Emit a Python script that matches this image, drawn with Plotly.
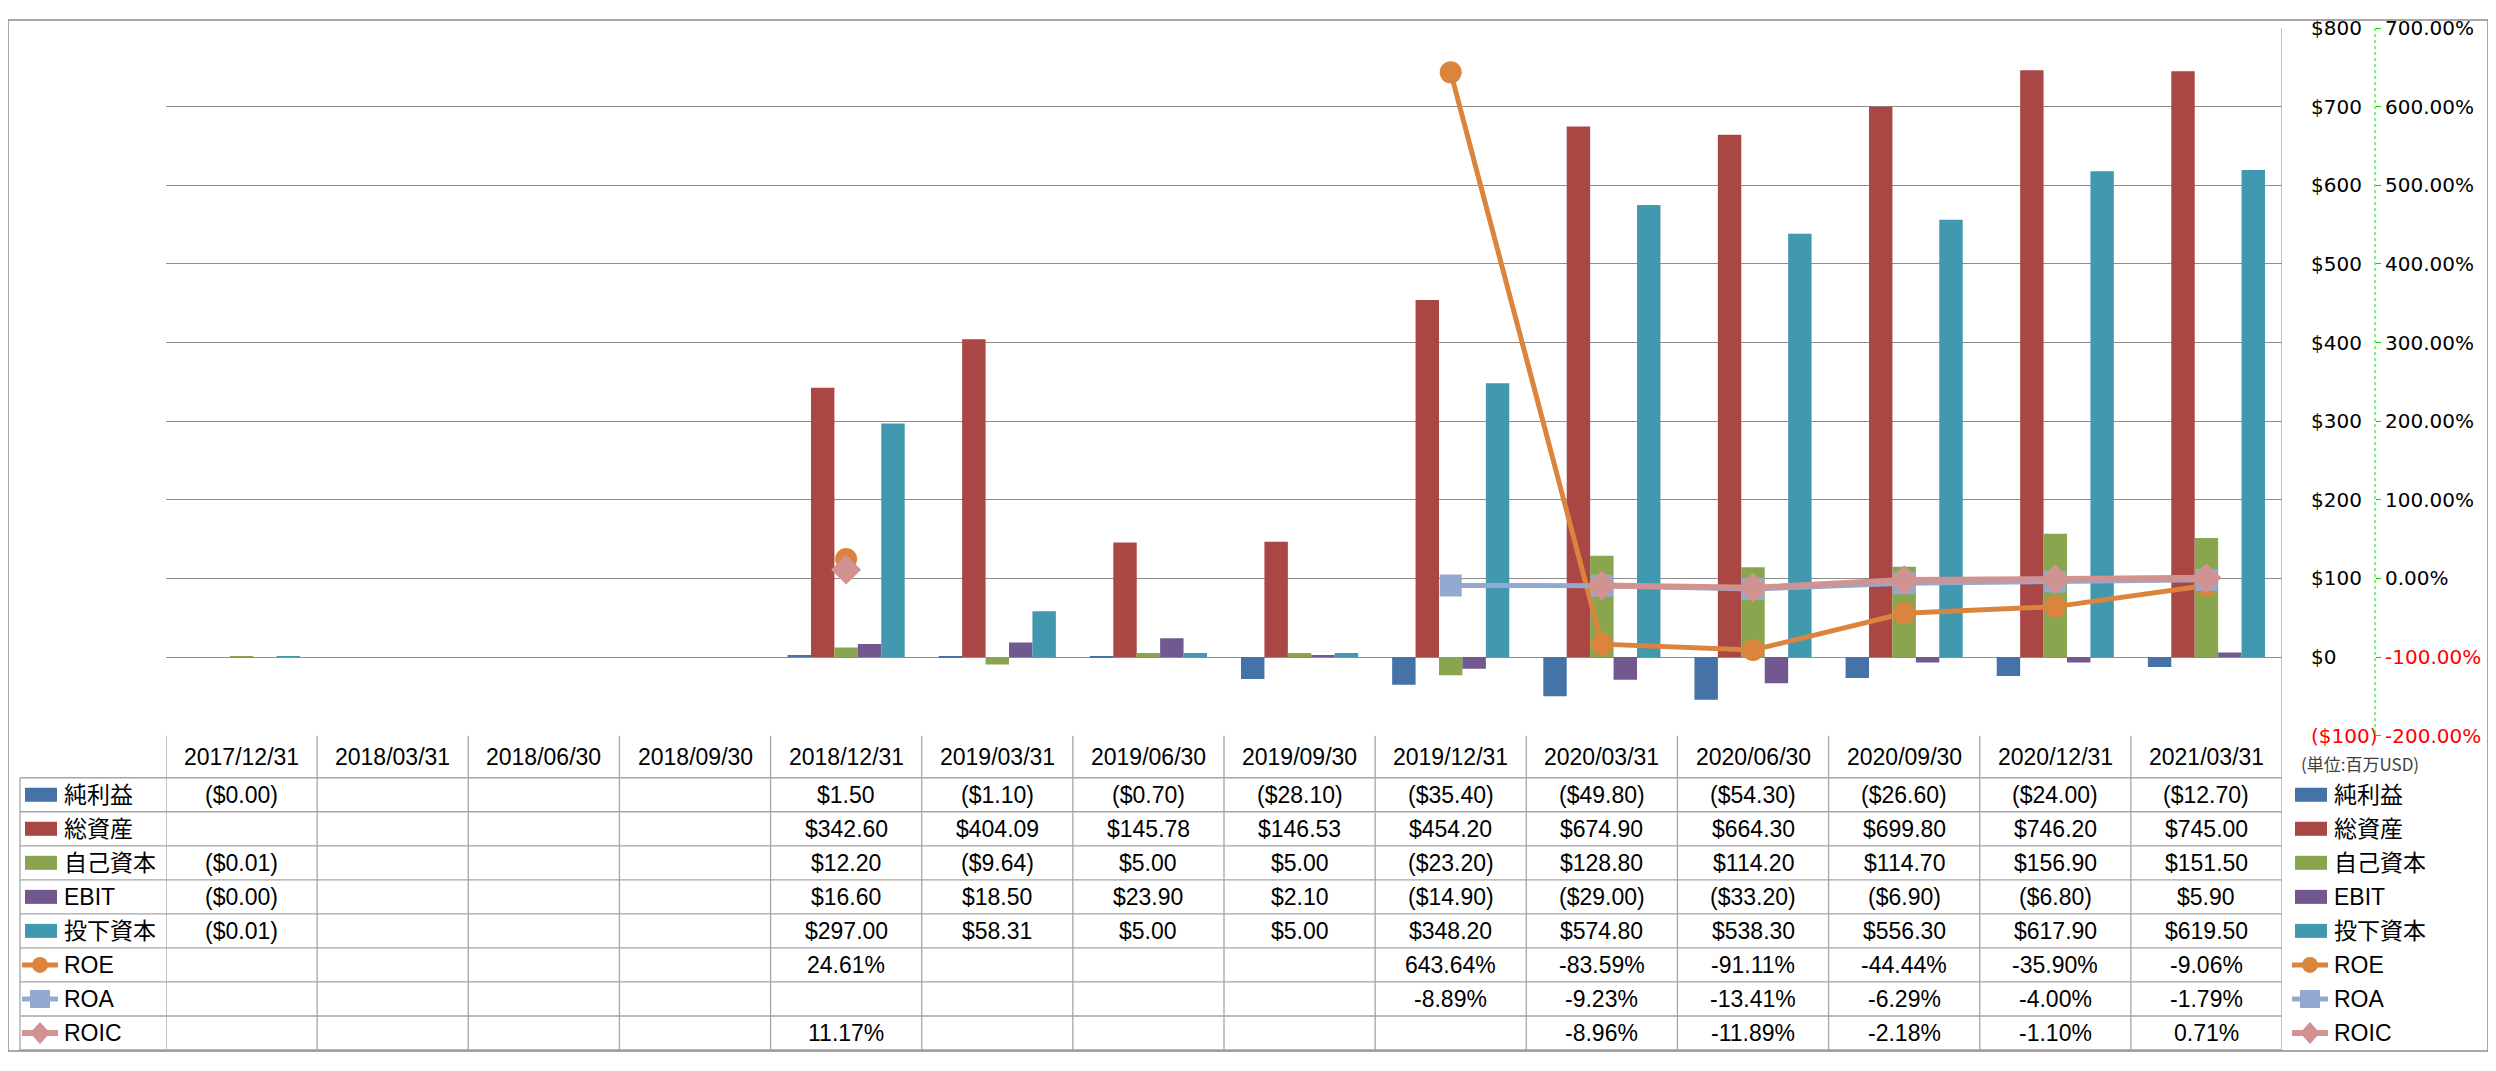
import plotly.graph_objects as go

# page body has an 8px margin; the photographed page comes out offset and slightly
# squeezed vertically, so vertical positions go through the measured map  Y = A + B * fy
OX = 8
FW, FH = 2496 - 2 * OX, 1071 - 16
A, B = 20.7, 0.9754

dates = ["2017/12/31", "2018/03/31", "2018/06/30", "2018/09/30", "2018/12/31",
         "2019/03/31", "2019/06/30", "2019/09/30", "2019/12/31", "2020/03/31",
         "2020/06/30", "2020/09/30", "2020/12/31", "2021/03/31"]

# 単位: 百万USD  (-0.001 は表で ($0.00) と表示される値)
net_income = [-0.001, None, None, None, 1.50, -1.10, -0.70, -28.10, -35.40, -49.80, -54.30, -26.60, -24.00, -12.70]
total_assets = [None, None, None, None, 342.60, 404.09, 145.78, 146.53, 454.20, 674.90, 664.30, 699.80, 746.20, 745.00]
equity = [-0.01, None, None, None, 12.20, -9.64, 5.00, 5.00, -23.20, 128.80, 114.20, 114.70, 156.90, 151.50]
ebit = [-0.001, None, None, None, 16.60, 18.50, 23.90, 2.10, -14.90, -29.00, -33.20, -6.90, -6.80, 5.90]
invested = [-0.01, None, None, None, 297.00, 58.31, 5.00, 5.00, 348.20, 574.80, 538.30, 556.30, 617.90, 619.50]

# %
roe = [None, None, None, None, 24.61, None, None, None, 643.64, -83.59, -91.11, -44.44, -35.90, -9.06]
roa = [None, None, None, None, None, None, None, None, -8.89, -9.23, -13.41, -6.29, -4.00, -1.79]
roic = [None, None, None, None, 11.17, None, None, None, None, -8.96, -11.89, -2.18, -1.10, 0.71]

usd_ticks = [-100, 0, 100, 200, 300, 400, 500, 600, 700, 800]
pct_ticks = [-200, -100, 0, 100, 200, 300, 400, 500, 600, 700]

bar_series = [("純利益", net_income, "#4572A7"),
              ("総資産", total_assets, "#AA4643"),
              ("自己資本", equity, "#89A54E"),
              ("EBIT", ebit, "#71588F"),
              ("投下資本", invested, "#4198AF")]
# name, values, colour, symbol, marker size, line width
line_series = [("ROE", roe, "#DB843D", "circle", 22, 5),
               ("ROA", roa, "#93A9CF", "square", 22, 5),
               ("ROIC", roic, "#D19392", "diamond", 23, 6)]

RED = "#FF0000"
GRID = "#8C8C8C"
TBL = "#A6A6A6"
TXT_FONT = "Liberation Sans, Noto Sans CJK JP, sans-serif"


def px(x):
    return (x - OX) / FW


def py(y):
    return 1 - ((y - A) / B) / FH


def fmt_usd(v):
    if v is None:
        return ""
    return f"(${abs(v):.2f})" if v < 0 else f"${v:.2f}"


def fmt_pct(v):
    return "" if v is None else f"{v:.2f}%"


def usd_tick(v):
    s = f"(${abs(v)})" if v < 0 else f"${v}"
    return f'<span style="color:{RED}">{s}</span>' if v < 0 else s


def pct_tick(v):
    s = f"{v:.2f}%"
    return f'<span style="color:{RED}">{s}</span>' if v < 0 else s


def key_marker(sym, cx, cy, col):
    # small legend marker drawn as a pixel-sized shape
    base = dict(xref="paper", yref="paper", xsizemode="pixel", ysizemode="pixel",
                xanchor=px(cx), yanchor=py(cy), fillcolor=col, line_width=0)
    if sym == "circle":
        return dict(type="circle", x0=-8, x1=8, y0=-8, y1=8, **base)
    if sym == "square":
        return dict(type="rect", x0=-10, x1=10, y0=-9, y1=9, **base)
    return dict(type="path", path="M -10 0 L 0 11 L 10 0 L 0 -11 Z", **base)


# plot / table geometry (reference pixels)
PX0, PX1 = 166, 2282
PY_TOP, PY_BOT = A + B * 8.24, 735
HDR_BOT = 777
TBL_BOT = A + B * (FH - 1)
ROW_H = (TBL_BOT - HDR_BOT) / 8
LBL_X0 = 20
AX2_X = 2375

fig = go.Figure()

for name, vals, col in bar_series:
    fig.add_trace(go.Bar(x=dates, y=vals, name=name, marker_color=col,
                         marker_line_width=0, showlegend=False))

for name, vals, col, sym, msize, lw in line_series:
    fig.add_trace(go.Scatter(x=dates, y=vals, name=name, yaxis="y2",
                             mode="lines+markers", line=dict(color=col, width=lw),
                             marker=dict(symbol=sym, size=msize, color=col),
                             showlegend=False))

rows = [(n, v, c, None) for n, v, c in bar_series] + \
       [(n, v, c, (s, lw)) for n, v, c, s, ms, lw in line_series]

shapes = []
annotations = []

for k, (name, vals, col, mk) in enumerate(rows):
    yc = HDR_BOT + (k + 0.5) * ROW_H
    for kx0, kx1, tx in [(25, 57, 62), (2295, 2327, 2332)]:
        if mk is None:
            shapes.append(dict(type="rect", xref="paper", yref="paper",
                               x0=px(kx0), x1=px(kx1), y0=py(yc + 7), y1=py(yc - 7),
                               fillcolor=col, line_width=0))
        else:
            sym, lw = mk
            shapes.append(dict(type="line", xref="paper", yref="paper",
                               x0=px(kx0 - 3), x1=px(kx1 + 1), y0=py(yc), y1=py(yc),
                               line=dict(color=col, width=lw)))
            shapes.append(key_marker(sym, (kx0 + kx1) / 2 - 1, yc, col))
        annotations.append(dict(x=px(tx), y=py(yc), xref="paper", yref="paper",
                                xanchor="left", yanchor="middle", showarrow=False,
                                text=name, font=dict(family=TXT_FONT, size=23, color="#000")))
    fmt = fmt_usd if mk is None else fmt_pct
    for d, v in zip(dates, vals):
        t = fmt(v)
        if t:
            annotations.append(dict(x=d, y=py(yc), xref="x", yref="paper",
                                    xanchor="center", yanchor="middle", showarrow=False,
                                    text=t, font=dict(family=TXT_FONT, size=23, color="#000")))

for d in dates:
    annotations.append(dict(x=d, y=py((PY_BOT + HDR_BOT) / 2), xref="x", yref="paper",
                            xanchor="center", yanchor="middle", showarrow=False,
                            text=d, font=dict(family=TXT_FONT, size=23, color="#000")))

annotations.append(dict(x=px(2299), y=py(763), xref="paper", yref="paper",
                        xanchor="left", yanchor="middle", showarrow=False,
                        text="(単位:百万USD)",
                        font=dict(family="Noto Sans CJK JP", size=17, color="#404040")))

# table grid
for i in range(len(dates) + 1):
    top = PY_TOP if i == len(dates) else PY_BOT
    shapes.append(dict(type="line", xref="x", yref="paper", x0=i - 0.5, x1=i - 0.5,
                       y0=py(top), y1=py(TBL_BOT), line=dict(color=TBL, width=1.3)))
shapes.append(dict(type="line", xref="paper", yref="paper", x0=px(LBL_X0), x1=px(LBL_X0),
                   y0=py(HDR_BOT), y1=py(TBL_BOT), line=dict(color=TBL, width=1.3)))
for k in range(9):
    yy = HDR_BOT + k * ROW_H
    shapes.append(dict(type="line", xref="paper", yref="paper", x0=px(LBL_X0), x1=px(PX1),
                       y0=py(yy), y1=py(yy), line=dict(color=TBL, width=1.3)))

# dashed secondary axis line
shapes.append(dict(type="line", xref="paper", yref="paper", x0=px(AX2_X), x1=px(AX2_X),
                   y0=py(PY_TOP), y1=py(PY_BOT), line=dict(color="#00DD00", width=1, dash="dot")))
# outer frame
shapes.append(dict(type="rect", xref="paper", yref="paper", x0=0, x1=1, y0=0, y1=1,
                   line=dict(color="#8C8C8C", width=1.5)))

fig.update_layout(
    width=FW, height=FH,
    margin=dict(l=0, r=0, t=0, b=0),
    paper_bgcolor="white", plot_bgcolor="white",
    barmode="group", bargap=0.225, bargroupgap=0,
    xaxis=dict(type="category", categoryorder="array", categoryarray=dates,
               range=[-0.5, len(dates) - 0.5], domain=[px(PX0), px(PX1)],
               showticklabels=False, showgrid=False, zeroline=False, fixedrange=True),
    yaxis=dict(range=[-100, 800], domain=[py(PY_BOT), py(PY_TOP)], side="right",
               tickvals=usd_ticks, ticktext=[usd_tick(v) for v in usd_ticks],
               tickfont=dict(family="DejaVu Sans", size=20, color="#000"),
               ticks="outside", ticklen=24, tickcolor="rgba(0,0,0,0)",
               ticklabeloverflow="allow",
               showgrid=True, gridcolor=GRID, gridwidth=1.3,
               zeroline=False, showline=False, fixedrange=True),
    yaxis2=dict(range=[-200, 700], overlaying="y", side="right", anchor="free",
                position=px(AX2_X), tickvals=pct_ticks,
                ticktext=[pct_tick(v) for v in pct_ticks],
                tickfont=dict(family="DejaVu Sans", size=20, color="#000"),
                ticks="outside", ticklen=5, tickcolor="#00DD00",
                ticklabeloverflow="allow",
                showgrid=False, zeroline=False, showline=False, fixedrange=True),
    shapes=shapes,
    annotations=annotations,
)

fig.write_html("out.html")
